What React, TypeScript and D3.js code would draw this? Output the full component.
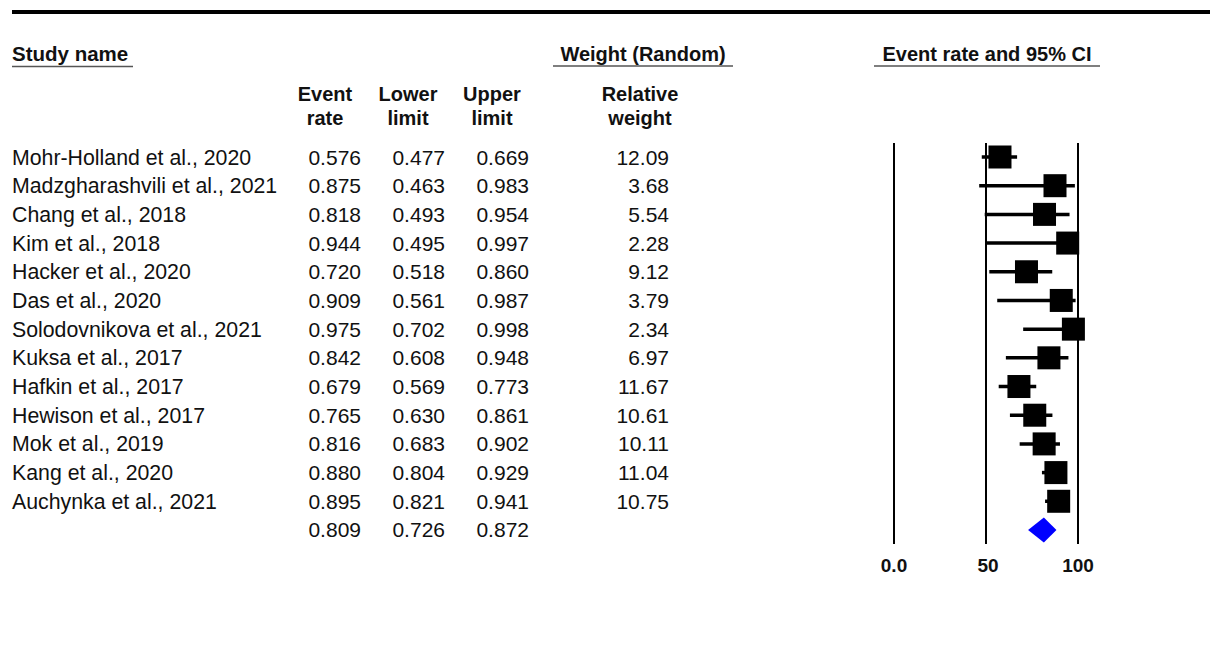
import React from "react";
import * as d3 from "d3";

const studies = [
  "Mohr-Holland et al., 2020",
  "Madzgharashvili et al., 2021",
  "Chang et al., 2018",
  "Kim et al., 2018",
  "Hacker et al., 2020",
  "Das et al., 2020",
  "Solodovnikova et al., 2021",
  "Kuksa et al., 2017",
  "Hafkin et al., 2017",
  "Hewison et al., 2017",
  "Mok et al., 2019",
  "Kang et al., 2020",
  "Auchynka et al., 2021",
];
const eventRate = [0.576, 0.875, 0.818, 0.944, 0.72, 0.909, 0.975, 0.842, 0.679, 0.765, 0.816, 0.88, 0.895];
const lowerLimit = [0.477, 0.463, 0.493, 0.495, 0.518, 0.561, 0.702, 0.608, 0.569, 0.63, 0.683, 0.804, 0.821];
const upperLimit = [0.669, 0.983, 0.954, 0.997, 0.86, 0.987, 0.998, 0.948, 0.773, 0.861, 0.902, 0.929, 0.941];
const relWeight = [12.09, 3.68, 5.54, 2.28, 9.12, 3.79, 2.34, 6.97, 11.67, 10.61, 10.11, 11.04, 10.75];
const summary = { rate: 0.809, lower: 0.726, upper: 0.872 };
const tickValues = [0, 0.5, 1];
const tickLabels = ["0.0", "50", "100"];

const FONT = "'Liberation Sans', Arial, sans-serif";
const TXT = "#111";

export default function App() {
  const x = d3.scaleLinear().domain([0, 1]).range([894, 1078]);
  const rowY = d3
    .scaleLinear()
    .domain([0, studies.length])
    .range([157, 157 + 28.69 * studies.length]);
  const sq = 23;
  const fmt3 = d3.format(".3f");
  const fmt2 = d3.format(".2f");
  const lineTop = 143;
  const lineBot = 544;

  const cols = [
    { right: 361, center: 325, h1: "Event", h2: "rate" },
    { right: 445, center: 408, h1: "Lower", h2: "limit" },
    { right: 529, center: 492, h1: "Upper", h2: "limit" },
    { right: 669, center: 640, h1: "Relative", h2: "weight" },
  ];

  const sy = rowY(studies.length);
  const diamond = [
    [x(summary.lower) + 0.5, sy],
    [x(summary.rate) + 1, sy - 12.5],
    [x(summary.upper) + 2, sy],
    [x(summary.rate) + 1, sy + 12.5],
  ];

  return (
    <svg
      width={1210}
      height={660}
      style={{ position: "absolute", left: 0, top: 0, background: "#fff" }}
      fontFamily={FONT}
    >
      <rect x={0} y={0} width={1210} height={660} fill="#fff" />
      <rect x={12} y={10} width={1198} height={4} fill="#000" />

      {/* section headers */}
      <text x={12} y={61} fontSize={20.5} fontWeight="bold" fill={TXT}>Study name</text>
      <line x1={12} x2={133} y1={66.5} y2={66.5} stroke="#555" strokeWidth={1.5} />
      <text x={643} y={61} fontSize={20} fontWeight="bold" fill={TXT} textAnchor="middle">Weight (Random)</text>
      <line x1={553} x2={733} y1={66} y2={66} stroke="#555" strokeWidth={1.5} />
      <text x={987} y={61} fontSize={20} fontWeight="bold" fill={TXT} textAnchor="middle">Event rate and 95% CI</text>
      <line x1={874} x2={1100} y1={66} y2={66} stroke="#555" strokeWidth={1.5} />

      {cols.map((c, i) => (
        <g key={i}>
          <text x={c.center} y={101} fontSize={20} fontWeight="bold" fill={TXT} textAnchor="middle">{c.h1}</text>
          <text x={c.center} y={125} fontSize={20} fontWeight="bold" fill={TXT} textAnchor="middle">{c.h2}</text>
        </g>
      ))}

      {studies.map((s, i) => {
        const y = rowY(i);
        return (
          <g key={s} fontSize={21} fill={TXT}>
            <text x={12} y={y + 7.5} fontSize={21.3}>{s}</text>
            <text x={cols[0].right} y={y + 7.5} textAnchor="end">{fmt3(eventRate[i])}</text>
            <text x={cols[1].right} y={y + 7.5} textAnchor="end">{fmt3(lowerLimit[i])}</text>
            <text x={cols[2].right} y={y + 7.5} textAnchor="end">{fmt3(upperLimit[i])}</text>
            <text x={cols[3].right} y={y + 7.5} textAnchor="end">{fmt2(relWeight[i])}</text>
          </g>
        );
      })}
      <g fontSize={21} fill={TXT}>
        <text x={cols[0].right} y={sy + 7.5} textAnchor="end">{fmt3(summary.rate)}</text>
        <text x={cols[1].right} y={sy + 7.5} textAnchor="end">{fmt3(summary.lower)}</text>
        <text x={cols[2].right} y={sy + 7.5} textAnchor="end">{fmt3(summary.upper)}</text>
      </g>

      {/* reference lines */}
      {tickValues.map((t, i) => (
        <g key={i}>
          <line x1={x(t)} x2={x(t)} y1={lineTop} y2={lineBot} stroke="#000" strokeWidth={2} />
          <text x={x(t) + (i === 1 ? 2 : 0)} y={572} fontSize={19} fontWeight="bold" fill={TXT} textAnchor="middle">{tickLabels[i]}</text>
        </g>
      ))}

      {/* study CIs and squares */}
      {studies.map((s, i) => {
        const y = rowY(i);
        return (
          <g key={"m" + i}>
            <line x1={x(lowerLimit[i])} x2={x(upperLimit[i])} y1={y} y2={y} stroke="#000" strokeWidth={3.5} />
            <rect x={x(eventRate[i]) - sq / 2} y={y - sq / 2} width={sq} height={sq} fill="#000" />
          </g>
        );
      })}

      <polygon points={diamond.map((p) => p.join(",")).join(" ")} fill="#0000ff" />
    </svg>
  );
}
